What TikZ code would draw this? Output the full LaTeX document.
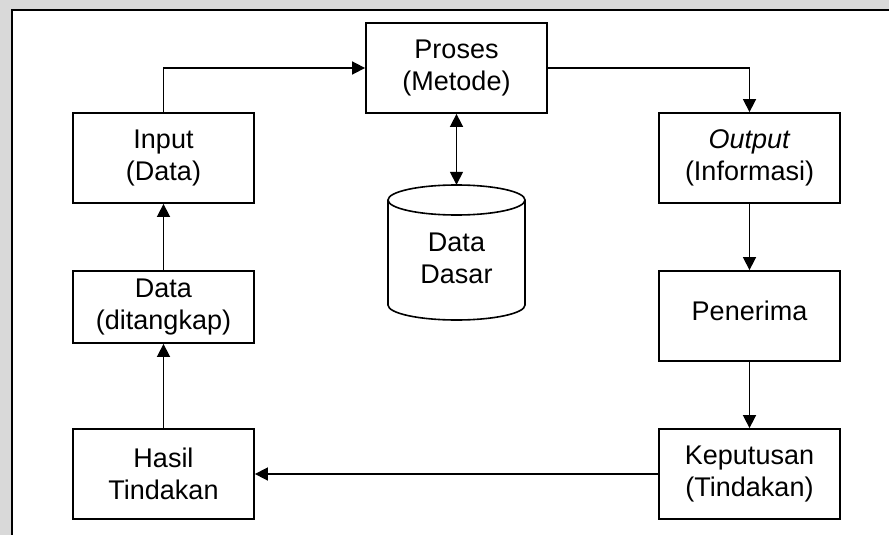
\documentclass[tikz,border=0pt]{standalone}
\usepackage{fontspec}
\setmainfont{Liberation Sans}
\usetikzlibrary{arrows.meta}
\begin{document}
\begin{tikzpicture}[x=1pt,y=-1pt,
  every node/.style={font=\fontsize{27}{32}\selectfont},
  box/.style={draw, line width=1.8pt, rectangle, minimum width=181pt, minimum height=90pt, align=center, inner sep=0pt},
  flow/.style={line width=1.6pt, -{Triangle[width=13pt,length=13pt]}},
  twoway/.style={line width=1.6pt, {Triangle[width=13pt,length=13pt]}-{Triangle[width=13pt,length=13pt]}}]
  \useasboundingbox (0,0) rectangle (889,535);

  % page background and frame
  \fill[white] (0,0) rectangle (889,535);
  \fill[black!15] (0,0) rectangle (889,10);
  \fill[black!15] (0,0) rectangle (12,535);
  \draw[line width=1.8pt] (12,535) -- (12,10) -- (889,10);

  % left column
  \node[box] (input) at (163.5,158) {Input\\(Data)};
  \node[box, minimum height=72pt] (tangkap) at (163.5,307) {Data\\(ditangkap)};
  \node[box] (hasil) at (163.5,474) {Hasil\\Tindakan};

  % centre: process and database
  \node[box] (proses) at (456.5,68) {Proses\\(Metode)};
  \node[minimum width=137pt, minimum height=135pt, inner sep=0pt] (db) at (456.5,252.5) {};
  \draw[line width=1.6pt, fill=white]
    (388,200) -- (388,305) arc[start angle=180, end angle=0, x radius=68.5, y radius=15]
    -- (525,200) arc[start angle=0, end angle=-180, x radius=68.5, y radius=15] -- cycle;
  \draw[line width=1.6pt] (388,200) arc[start angle=180, end angle=0, x radius=68.5, y radius=15];
  \node[align=center, inner sep=0pt] (dbtext) at (456.5,258) {Data\\Dasar};

  % right column
  \node[box] (output) at (749.5,158) {\textit{Output}\\(Informasi)};
  \node[box] (penerima) at (749.5,316) {\raisebox{-4pt}[0pt][0pt]{Penerima}};
  \node[box] (keputusan) at (749.5,474) {Keputusan\\(Tindakan)};

  % connectors
  \draw[flow] (hasil) -- (tangkap);
  \draw[flow] (tangkap) -- (input);
  \draw[flow] (input.north) |- (proses.west);
  \draw[flow] (proses.east) -| (output.north);
  \draw[twoway] (proses.south) -- (db.north);
  \draw[flow] (output) -- (penerima);
  \draw[flow] (penerima) -- (keputusan);
  \draw[flow] (keputusan) -- (hasil);
\end{tikzpicture}
\end{document}
